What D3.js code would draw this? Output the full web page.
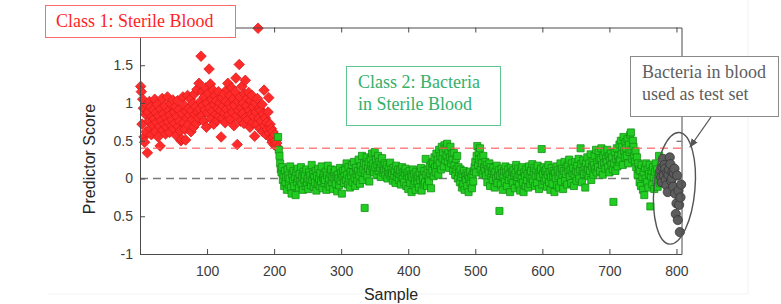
<!DOCTYPE html>
<html>
<head>
<meta charset="utf-8">
<script src="https://cdn.jsdelivr.net/npm/d3@7"></script>
<style>
  body { margin: 0; background: #fff; }
  svg { display: block; }
  .axis text { font-family: 'Liberation Sans', Arial, sans-serif; font-size: 14px; fill: #3c3c3c; }
  .axis path, .axis line { stroke: #4a4a4a; stroke-width: 1; }
  .axis-label { font-family: 'Liberation Sans', Arial, sans-serif; font-size: 16px; fill: #262626; }
  .note { font-family: 'Liberation Serif', 'Times New Roman', serif; font-size: 18px; }
</style>
</head>
<body>
<div id="figure-container"></div>
<script>
// predictor scores, one value per sample
// class 1: sterile blood (samples 1..205)
var class1Start = 1;
var class1Scores = [
  1.22, 1.15, 0.72, 1.05, 0.93, 0.55, 0.48, 0.85, 0.62, 0.98,
  0.34, 0.88, 0.76, 1.02, 0.66, 0.95, 0.58, 0.82, 0.71, 0.91,
  0.79, 1.05, 0.62, 0.87, 0.74, 0.98, 0.55, 0.83, 0.69, 0.43,
  0.92, 0.77, 1.06, 0.64, 0.86, 0.72, 0.96, 0.59, 0.81, 0.68,
  1.08, 0.75, 0.90, 0.61, 0.84, 0.99, 0.70, 0.78, 1.04, 0.66,
  0.88, 0.73, 0.95, 0.57, 0.82, 1.03, 0.69, 0.91, 0.76, 0.63,
  0.50, 0.52, 0.86, 1.08, 0.74, 0.97, 0.65, 0.51, 0.89, 0.80,
  1.10, 0.71, 0.93, 0.84, 1.05, 0.62, 0.90, 0.78, 0.99, 0.68,
  1.12, 0.85, 0.95, 0.73, 1.18, 0.88, 0.80, 1.26, 0.92, 1.02,
  1.62, 0.83, 1.15, 0.97, 0.76, 1.08, 0.91, 1.20, 0.68, 1.00,
  0.87, 1.13, 1.45, 0.94, 1.25, 0.79, 1.05, 0.89, 1.17, 0.72,
  0.98, 1.10, 0.85, 1.03, 0.77, 0.93, 1.15, 0.82, 1.00, 0.90,
  0.55, 1.07, 0.80, 0.96, 1.12, 0.86, 0.74, 1.02, 0.92, 1.18,
  1.26, 0.84, 0.99, 1.10, 0.78, 0.95, 1.20, 0.88, 1.05, 0.70,
  0.97, 1.15, 1.33, 0.83, 0.45, 1.02, 0.90, 1.51, 1.08, 0.76,
  0.94, 1.22, 0.86, 1.00, 0.73, 1.12, 1.30, 0.81, 0.96, 1.06,
  0.78, 1.14, 0.90, 0.68, 1.03, 0.85, 1.10, 0.74, 0.95, 0.82,
  0.56, 1.00, 0.88, 0.72, 1.06, 1.99, 0.80, 0.93, 0.66, 0.90,
  0.76, 0.98, 0.62, 0.85, 1.17, 0.70, 0.80, 0.58, 0.74, 0.65,
  0.88, 1.07, 0.60, 0.72, 0.53, 0.66, 0.48, 0.62, 0.55, 0.45,
  0.58, 0.50, 0.43, 0.47, 0.41
];
// class 2: bacteria in sterile blood (samples 206..775)
var class2Start = 206;
var class2Scores = [
  0.55, 0.38, 0.30, 0.20, 0.12, 0.08, 0.15, -0.02, 0.05, -0.10,
  0.10, -0.05, 0.02, -0.15, 0.12, 0.04, -0.08, 0.00, 0.16, -0.12,
  -0.20, 0.05, -0.03, 0.10, -0.10, 0.02, -0.22, 0.08, -0.05, 0.13,
  0.00, -0.12, 0.06, -0.04, 0.15, -0.08, 0.03, -0.15, 0.09, -0.02,
  0.05, -0.10, 0.12, -0.06, 0.00, -0.14, 0.08, -0.03, 0.04, -0.09,
  0.18, -0.02, 0.06, -0.11, 0.02, -0.05, 0.10, -0.16, 0.03, -0.07,
  0.13, 0.00, -0.10, 0.07, -0.04, 0.16, -0.13, 0.01, 0.05, -0.06,
  -0.02, 0.09, -0.15, 0.04, 0.17, -0.08, 0.00, -0.11, 0.06, 0.12,
  -0.05, 0.02, -0.14, 0.08, -0.01, 0.11, -0.07, 0.03, -0.17, 0.05,
  0.00, -0.09, 0.14, -0.03, 0.07, -0.20, 0.02, 0.10, -0.06, 0.04,
  0.12, -0.02, 0.20, 0.05, -0.08, 0.15, 0.00, -0.12, 0.09, 0.03,
  0.18, -0.05, 0.08, 0.22, 0.01, -0.10, 0.14, 0.06, -0.03, 0.10,
  0.25, 0.04, -0.07, 0.16, 0.09, 0.30, -0.02, 0.12, 0.20, -0.39,
  0.07, 0.18, 0.28, 0.03, 0.14, 0.22, -0.04, 0.10, 0.26, 0.17,
  0.33, 0.12, 0.20, 0.08, 0.35, 0.15, 0.25, 0.05, 0.18, 0.30,
  0.10, 0.22, 0.14, 0.02, 0.19, 0.27, 0.08, 0.16, 0.11, 0.20,
  0.05, 0.13, 0.18, 0.00, 0.09, 0.15, 0.06, 0.21, 0.03, 0.12,
  0.07, -0.03, 0.14, 0.04, 0.10, -0.06, 0.17, 0.02, 0.08, 0.12,
  -0.02, 0.06, 0.11, -0.08, 0.03, 0.15, 0.00, 0.09, -0.05, 0.07,
  0.13, -0.10, 0.04, 0.08, -0.14, 0.01, 0.10, -0.06, 0.05, -0.18,
  0.02, 0.12, -0.09, 0.06, -0.03, -0.15, 0.09, 0.00, -0.07, 0.04,
  -0.12, 0.08, -0.02, 0.14, -0.16, 0.03, 0.00, -0.08, 0.10, -0.05,
  0.26, 0.05, -0.10, 0.12, 0.00, -0.04, 0.16, 0.07, -0.13, 0.20,
  0.10, 0.22, 0.03, 0.28, 0.15, 0.08, 0.33, 0.18, 0.25, 0.05,
  0.38, 0.20, 0.30, 0.12, 0.42, 0.27, 0.35, 0.16, 0.44, 0.24,
  0.40, 0.30, 0.46, 0.22, 0.36, 0.14, 0.28, 0.42, 0.20, 0.32,
  0.25, 0.10, 0.34, 0.18, 0.05, 0.26, 0.12, 0.30, 0.00, 0.15,
  0.08, -0.05, 0.12, 0.02, -0.12, 0.06, -0.08, 0.10, -0.15, 0.03,
  -0.02, 0.07, -0.10, 0.04, -0.18, 0.00, 0.09, -0.06, 0.02, -0.13,
  0.05, -0.04, 0.10, 0.15, 0.22, 0.08, 0.30, 0.43, 0.18, 0.35,
  0.25, 0.40, 0.12, 0.28, 0.20, 0.06, 0.30, 0.15, 0.10, 0.22,
  0.04, 0.18, -0.05, 0.12, 0.08, 0.20, -0.10, 0.15, 0.03, 0.10,
  -0.02, 0.14, 0.06, -0.12, 0.09, 0.00, 0.17, -0.06, 0.05, 0.11,
  -0.43, 0.04, -0.08, 0.13, 0.07, -0.15, 0.02, 0.10, -0.04, 0.16,
  0.08, -0.10, 0.03, 0.12, -0.02, 0.06, -0.18, 0.14, 0.00, 0.09,
  -0.06, 0.11, 0.04, -0.13, 0.07, 0.18, -0.03, 0.02, 0.13, -0.09,
  0.05, -0.16, 0.10, 0.00, 0.15, -0.05, -0.18, 0.08, 0.03, -0.10,
  0.12, -0.02, 0.06, -0.12, 0.16, 0.04, -0.07, 0.10, 0.00, 0.19,
  -0.04, 0.08, 0.14, -0.10, 0.03, 0.11, -0.06, 0.17, 0.05, -0.14,
  0.09, 0.02, 0.13, 0.39, -0.08, 0.06, 0.15, -0.03, 0.10, 0.00,
  0.12, -0.11, 0.05, 0.18, -0.05, 0.08, -0.15, 0.02, 0.14, -0.07,
  0.04, 0.10, -0.18, 0.07, 0.00, 0.16, -0.09, 0.11, 0.03, -0.12,
  0.08, 0.20, -0.04, 0.13, 0.05, -0.14, 0.10, 0.22, -0.02, 0.06,
  0.15, -0.08, 0.18, 0.09, 0.25, 0.02, 0.12, -0.06, 0.20, 0.07,
  0.14, -0.10, 0.05, 0.22, 0.10, -0.03, 0.17, 0.08, 0.26, 0.00,
  0.12, 0.40, 0.19, -0.05, 0.10, 0.24, 0.06, 0.15, -0.12, 0.20,
  0.08, 0.28, 0.13, 0.03, 0.20, 0.10, 0.32, -0.02, 0.16, 0.23,
  0.05, 0.18, 0.30, 0.12, 0.38, 0.08, 0.22, 0.15, 0.35, 0.27,
  0.10, 0.25, 0.40, 0.18, 0.05, 0.30, 0.20, 0.36, 0.13, 0.26,
  0.22, 0.38, 0.15, 0.30, 0.08, 0.24, 0.33, 0.18, 0.28, 0.12,
  -0.31, 0.20, 0.35, 0.10, 0.26, 0.40, 0.16, 0.30, 0.22, 0.45,
  0.25, 0.50, 0.32, 0.42, 0.18, 0.55, 0.36, 0.28, 0.48, 0.40,
  0.30, 0.52, 0.20, 0.45, 0.35, 0.58, 0.61, 0.38, 0.26, 0.50,
  0.42, 0.30, 0.22, 0.36, 0.15, 0.28, 0.05, 0.20, 0.12, -0.05,
  0.10, -0.10, 0.18, 0.02, -0.15, 0.08, -0.22, 0.14, 0.00, 0.20,
  -0.05, 0.12, -0.12, 0.06, 0.18, -0.37, 0.03, 0.10, -0.08, 0.15,
  0.02, -0.14, 0.09, 0.20, -0.03, 0.12, -0.11, 0.05, 0.30, -0.06
];
// bacteria in blood, test set (samples 776..807)
var testStart = 776;
var testScores = [
  0.10, 0.02, -0.05, 0.15, 0.26, 0.04, 0.18, 0.13, -0.02, -0.09,
  0.08, -0.18, 0.05, 0.12, 0.28, 0.19, -0.03, 0.00, 0.09, -0.11,
  0.07, 0.13, -0.20, -0.47, -0.33, 0.04, -0.55, -0.16, -0.35, -0.71,
  -0.25, -0.08
];

var thresholdScore = 0.4;
var baseScore = 0;

var xTickValues = [100, 200, 300, 400, 500, 600, 700, 800];
var yTickValues = [-1, -0.5, 0, 0.5, 1, 1.5];
var yTickLabels = ['-1', '0.5', '0', '0.5', '1', '1.5'];

var fullWidth = 781;
var fullHeight = 304;

var xScale = d3.scaleLinear()
  .domain([0, 807.5])
  .range([140, 681.5]);

var yScale = d3.scaleLinear()
  .domain([-1, 2])
  .range([254, 27.5]);

var toPoints = function(scores, start) {
  return scores.map(function(v, i) { return {x: start + i, y: v}; });
};

var svg = d3.select('#figure-container')
  .append('svg')
  .attr('width', fullWidth)
  .attr('height', fullHeight);

var defs = svg.append('defs');
defs.append('marker')
  .attr('id', 'arrowhead')
  .attr('viewBox', '0 0 10 10')
  .attr('refX', 9)
  .attr('refY', 5)
  .attr('markerUnits', 'userSpaceOnUse')
  .attr('markerWidth', 9)
  .attr('markerHeight', 9)
  .attr('orient', 'auto')
  .append('path')
  .attr('d', 'M0,1L10,5L0,9Z')
  .attr('fill', '#555');

// faint slide frame
svg.append('line')
  .attr('x1', 748).attr('x2', 748).attr('y1', 0).attr('y2', 294)
  .attr('stroke', '#f2f2f2');
svg.append('line')
  .attr('x1', 48).attr('x2', 748).attr('y1', 294).attr('y2', 294)
  .attr('stroke', '#f2f2f2');

// dashed zero line sits under the markers
svg.append('line')
  .attr('x1', xScale(0)).attr('x2', xScale(807.5))
  .attr('y1', yScale(baseScore)).attr('y2', yScale(baseScore))
  .attr('stroke', '#7a7a7a')
  .attr('stroke-width', 1.5)
  .attr('stroke-dasharray', '8,5');

var dataArea = svg.append('g').attr('class', 'data-area');

dataArea.append('g')
  .selectAll('path')
  .data(toPoints(class1Scores, class1Start))
  .enter()
    .append('path')
    .attr('d', d3.symbol(d3.symbolSquare, 56))
    .attr('transform', function(d) { return `translate(${xScale(d.x)},${yScale(d.y)}) rotate(45)`; })
    .attr('fill', '#ff2b2b')
    .attr('stroke', '#d81818')
    .attr('stroke-width', 0.7);

dataArea.append('g')
  .selectAll('path')
  .data(toPoints(class2Scores, class2Start))
  .enter()
    .append('path')
    .attr('d', d3.symbol(d3.symbolSquare, 50))
    .attr('transform', function(d) { return `translate(${xScale(d.x)},${yScale(d.y)})`; })
    .attr('fill', '#22cc22')
    .attr('stroke', '#149214')
    .attr('stroke-width', 0.8);

dataArea.append('g')
  .selectAll('circle')
  .data(toPoints(testScores, testStart))
  .enter()
    .append('circle')
    .attr('cx', function(d) { return xScale(d.x); })
    .attr('cy', function(d) { return yScale(d.y); })
    .attr('r', 4.6)
    .attr('fill', '#5c5c5c')
    .attr('stroke', '#363636')
    .attr('stroke-width', 0.8);

// threshold line
svg.append('line')
  .attr('x1', xScale(0)).attr('x2', xScale(807.5))
  .attr('y1', yScale(thresholdScore)).attr('y2', yScale(thresholdScore))
  .attr('stroke', '#ff5a5a')
  .attr('stroke-opacity', 0.75)
  .attr('stroke-width', 1.5)
  .attr('stroke-dasharray', '8,5');

// box axes, ticks pointing inward
svg.append('g')
  .attr('class', 'axis x')
  .attr('transform', `translate(0,${yScale(-1)})`)
  .call(d3.axisBottom(xScale).tickValues(xTickValues).tickSizeInner(-5).tickSizeOuter(0).tickPadding(12));

svg.append('g')
  .attr('class', 'axis x top')
  .attr('transform', `translate(0,${yScale(2)})`)
  .call(d3.axisTop(xScale).tickValues(xTickValues).tickSizeInner(-5).tickSizeOuter(0).tickFormat(''));

svg.append('g')
  .attr('class', 'axis y')
  .attr('transform', `translate(${xScale(0)},0)`)
  .call(d3.axisLeft(yScale).tickValues(yTickValues).tickSizeInner(-5).tickSizeOuter(0).tickPadding(7)
    .tickFormat(function(d, i) { return yTickLabels[i]; }));

svg.append('g')
  .attr('class', 'axis y right')
  .attr('transform', `translate(${xScale(807.5)},0)`)
  .call(d3.axisRight(yScale).tickValues(yTickValues).tickSizeInner(-5).tickSizeOuter(0).tickFormat(''));

svg.selectAll('.axis .domain').attr('stroke', '#4a4a4a');

svg.append('text')
  .attr('class', 'axis-label')
  .attr('text-anchor', 'middle')
  .attr('x', 391)
  .attr('y', 300)
  .text('Sample');

svg.append('text')
  .attr('class', 'axis-label')
  .attr('text-anchor', 'middle')
  .attr('transform', 'translate(95,159) rotate(-90)')
  .text('Predictor Score');

// ellipse around the test set + arrow
svg.append('ellipse')
  .attr('cx', xScale(797))
  .attr('cy', yScale(-0.13))
  .attr('rx', 20.5)
  .attr('ry', 56)
  .attr('transform', `rotate(5,${xScale(797)},${yScale(-0.13)})`)
  .attr('fill', 'none')
  .attr('stroke', '#555')
  .attr('stroke-width', 1.4);

svg.append('line')
  .attr('x1', 711).attr('y1', 117)
  .attr('x2', 690).attr('y2', 147)
  .attr('stroke', '#555')
  .attr('stroke-width', 1.3)
  .attr('marker-end', 'url(#arrowhead)');

// annotation boxes
var notes = [
  {x: 45, y: 5, w: 190, h: 32, stroke: '#ff6a6a', fill: '#ff1f1f', lines: ['Class 1: Sterile Blood'], tx: 56, ty: 27},
  {x: 346, y: 66, w: 154, h: 59, stroke: '#5cc48e', fill: '#34b06a', lines: ['Class 2: Bacteria', 'in Sterile Blood'], tx: 358, ty: 88},
  {x: 630, y: 56, w: 148, h: 60, stroke: '#8a8a8a', fill: '#5e5e5e', lines: ['Bacteria in blood', 'used as test set'], tx: 642, ty: 78}
];

notes.forEach(function(n) {
  var g = svg.append('g');
  g.append('rect')
    .attr('x', n.x + 0.5).attr('y', n.y + 0.5)
    .attr('width', n.w).attr('height', n.h)
    .attr('fill', '#fff')
    .attr('stroke', n.stroke)
    .attr('stroke-width', 1);
  n.lines.forEach(function(t, i) {
    g.append('text')
      .attr('class', 'note')
      .attr('x', n.tx)
      .attr('y', n.ty + i * 22)
      .attr('fill', n.fill)
      .text(t);
  });
});
</script>
</body>
</html>
